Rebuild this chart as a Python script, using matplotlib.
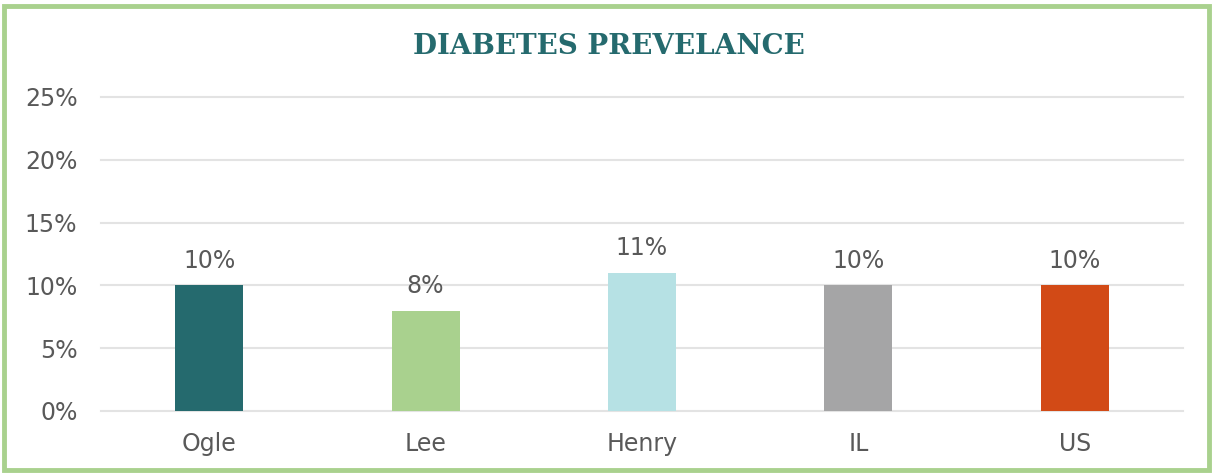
import matplotlib.pyplot as plt
from matplotlib.patches import Rectangle
from matplotlib.ticker import PercentFormatter

plt.rcParams['font.family'] = ['DejaVu Sans']

categories = ["Ogle", "Lee", "Henry", "IL", "US"]
values = [10, 8, 11, 10, 10]
labels = ["10%", "8%", "11%", "10%", "10%"]
colors = ["#256A6E", "#A9D18E", "#B6E1E4", "#A5A5A6", "#D24A16"]
yticks = [0, 5, 10, 15, 20, 25]

fig = plt.figure(figsize=(12.12, 4.75), dpi=100)
ax = fig.add_axes([101 / 1212, 1 - 411 / 475, 1082 / 1212, 314 / 475])

x = range(len(categories))
bars = ax.bar(x, values, width=0.315, color=colors, zorder=3)
for b, lab in zip(bars, labels):
    ax.text(b.get_x() + b.get_width() / 2, b.get_height() + 1.0, lab,
            ha="center", va="bottom", fontsize=17, color="#595959")

ax.set_xlim(-0.5, len(categories) - 0.5)
ax.set_ylim(0, 25)
ax.set_yticks(yticks)
ax.yaxis.set_major_formatter(PercentFormatter(decimals=0))
ax.set_xticks(list(x))
ax.set_xticklabels(categories)
ax.tick_params(axis="both", length=0, labelsize=17, labelcolor="#595959")
ax.tick_params(axis="y", pad=17)
ax.tick_params(axis="x", pad=15)
ax.grid(axis="y", color="#E3E3E3", linewidth=1.5, zorder=0)
for gl in ax.yaxis.get_gridlines():
    gl.set_clip_on(False)
for s in ax.spines.values():
    s.set_visible(False)

fig.text(609 / 1212, 1 - 46 / 475, "DIABETES PREVELANCE", ha="center", va="center",
         fontsize=20, fontweight="bold", family="DejaVu Serif", color="#256A6E")

fig.patches.append(Rectangle((4 / 1212, 5 / 475), 1205 / 1212, 464 / 475,
                             transform=fig.transFigure, fill=False,
                             edgecolor="#A9D18E", linewidth=3.5))

fig.savefig("out.png", dpi=100)
